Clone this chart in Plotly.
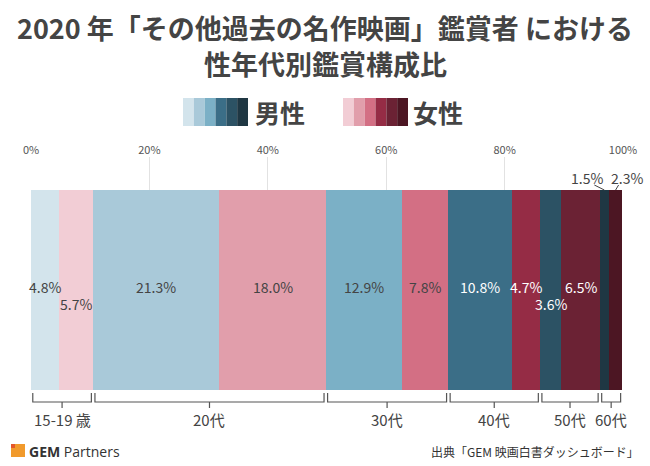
import plotly.graph_objects as go

# ---- data ----
segments = ["男性15-19歳", "女性15-19歳", "男性20代", "女性20代", "男性30代", "女性30代",
            "男性40代", "女性40代", "男性50代", "女性50代", "男性60代", "女性60代"]
values = [4.8, 5.7, 21.3, 18.0, 12.9, 7.8, 10.8, 4.7, 3.6, 6.5, 1.5, 2.3]
colors = ["#d3e4ec", "#f2cdd5", "#a9c9d9", "#e19eab", "#7bb0c6", "#d36f84",
          "#3b6e87", "#952c45", "#2c5264", "#6b2234", "#1f3743", "#4c1623"]
text_colors = ["#444444", "#444444", "#444444", "#444444", "#444444", "#444444",
               "#ffffff", "#ffffff", "#ffffff", "#ffffff", "#444444", "#444444"]
label_mode = ["mid", "low", "mid", "mid", "mid", "mid", "mid", "mid", "low", "mid", "out", "out"]
groups = ["15-19 歳", "20代", "30代", "40代", "50代", "60代"]
tick_vals = [0, 20, 40, 60, 80, 100]
tick_text = ["0%", "20%", "40%", "60%", "80%", "100%"]
male_colors = ["#d3e4ec", "#a9c9d9", "#7bb0c6", "#3b6e87", "#2c5264", "#1f3743"]
female_colors = ["#f2cdd5", "#e19eab", "#d36f84", "#952c45", "#6b2234", "#4c1623"]

FONT = "Noto Sans CJK JP"
W, H = 650, 466
L, R, T, B = 31, 27, 157, 76
PW, PH = W - L - R, H - T - B


def px(x):
    return (x - L) / PW


def py(y):
    return (H - B - y) / PH


def ydat(y):
    # bar spans px 190..390 -> data -0.5..0.5
    return -0.5 + (H - B - y) / 200.0


fig = go.Figure()
for name, v, c in zip(segments, values, colors):
    fig.add_trace(go.Bar(x=[v], y=[0], orientation="h", name=name,
                         marker=dict(color=c, line=dict(width=0)), width=1,
                         hoverinfo="name+x"))

annotations = []
shapes = []


def ann(**kw):
    kw.setdefault("showarrow", False)
    kw.setdefault("xanchor", "center")
    kw.setdefault("yanchor", "middle")
    annotations.append(kw)


# segment labels
starts = []
acc = 0.0
for v in values:
    starts.append(acc)
    acc += v
xunit = 100.0 / PW  # data units per pixel
for i, v in enumerate(values):
    cx = starts[i] + v / 2
    txt = f"{v:.1f}%"
    if label_mode[i] == "mid":
        ann(x=cx, y=ydat(287), xref="x", yref="y", text=txt,
            font=dict(family=FONT, size=14, color=text_colors[i]))
    elif label_mode[i] == "low":
        ann(x=cx, y=ydat(304), xref="x", yref="y", text=txt,
            font=dict(family=FONT, size=14, color=text_colors[i]))

# outside labels with leader lines (1.5%, 2.3%)
out_idx = [i for i, m in enumerate(label_mode) if m == "out"]
text_dx = [-17, 11]
line_dx = [-10, 3]
for k, i in enumerate(out_idx):
    cx = starts[i] + values[i] / 2
    ann(x=px(L + cx / xunit + text_dx[k]), y=py(178), xref="paper", yref="paper",
        text=f"{values[i]:.1f}%", font=dict(family=FONT, size=14, color="#444444"))
    shapes.append(dict(type="line", xref="x", yref="y",
                       x0=cx + line_dx[k] * xunit, y0=ydat(185), x1=cx, y1=ydat(190),
                       line=dict(color="#444444", width=1)))

# age-group brackets
gap = 0.3
for g, name in enumerate(groups):
    a = starts[2 * g]
    b = starts[2 * g] + values[2 * g] + values[2 * g + 1]
    x0, x1 = a + gap, b - gap
    yt, yb, yc = py(393), py(402), py(408)
    path = f"M {x0} {yt} L {x0} {yb} L {x1} {yb} L {x1} {yt} M {(x0 + x1) / 2} {yb} L {(x0 + x1) / 2} {yc}"
    shapes.append(dict(type="path", xref="x", yref="paper", path=path,
                       line=dict(color="#555555", width=1.2)))
    ann(x=(a + b) / 2, y=py(419), xref="x", yref="paper", text=name,
        font=dict(family=FONT, size=15, color="#444444"))

# title
ann(x=px(325), y=py(27), xref="paper", yref="paper",
    text="2020 年「その他過去の名作映画」鑑賞者 における",
    font=dict(family=FONT, size=27, color="#444444", weight="bold"))
ann(x=px(325), y=py(63), xref="paper", yref="paper", text="性年代別鑑賞構成比",
    font=dict(family=FONT, size=27, color="#444444", weight="bold"))

# legend blocks
bw = 65 / 6
for j, c in enumerate(male_colors):
    shapes.append(dict(type="rect", xref="paper", yref="paper", x0=px(183 + j * bw), x1=px(183 + (j + 1) * bw),
                       y0=py(126), y1=py(98), fillcolor=c, line=dict(width=0)))
for j, c in enumerate(female_colors):
    shapes.append(dict(type="rect", xref="paper", yref="paper", x0=px(343 + j * bw), x1=px(343 + (j + 1) * bw),
                       y0=py(126), y1=py(98), fillcolor=c, line=dict(width=0)))
ann(x=px(253), y=py(112), xref="paper", yref="paper", text="男性", xanchor="left",
    font=dict(family=FONT, size=25, color="#444444", weight="bold"))
ann(x=px(411), y=py(112), xref="paper", yref="paper", text="女性", xanchor="left",
    font=dict(family=FONT, size=25, color="#444444", weight="bold"))

# logo
shapes.append(dict(type="rect", xref="paper", yref="paper", x0=px(11), x1=px(25), y0=py(457), y1=py(444),
                   fillcolor="#f19a2c", line=dict(width=0)))
shapes.append(dict(type="rect", xref="paper", yref="paper", x0=px(11), x1=px(15), y0=py(448), y1=py(444),
                   fillcolor="#e4572b", line=dict(width=0)))
ann(x=px(27), y=py(451), xref="paper", yref="paper", text="<b>GEM</b> Partners", xanchor="left",
    font=dict(family="Open Sans", size=14, color="#333333"))
ann(x=px(641), y=py(451), xref="paper", yref="paper", text="出典「GEM 映画白書ダッシュボード」",
    xanchor="right", font=dict(family=FONT, size=12, color="#333333"))

fig.update_layout(
    width=W, height=H, barmode="stack", showlegend=False,
    margin=dict(l=L, r=R, t=T, b=B),
    paper_bgcolor="white", plot_bgcolor="white",
    xaxis=dict(range=[0, 100], side="top", tickvals=tick_vals, ticktext=tick_text,
               tickfont=dict(family=FONT, size=11, color="#555555"),
               showgrid=True, gridcolor="#e2e2e2", gridwidth=1, zeroline=False, showline=False,
               ticks="", fixedrange=True),
    yaxis=dict(range=[-0.5, -0.5 + PH / 200.0], visible=False, fixedrange=True),
    annotations=annotations, shapes=shapes,
    bargap=0,
)
fig.write_html("out.html")
